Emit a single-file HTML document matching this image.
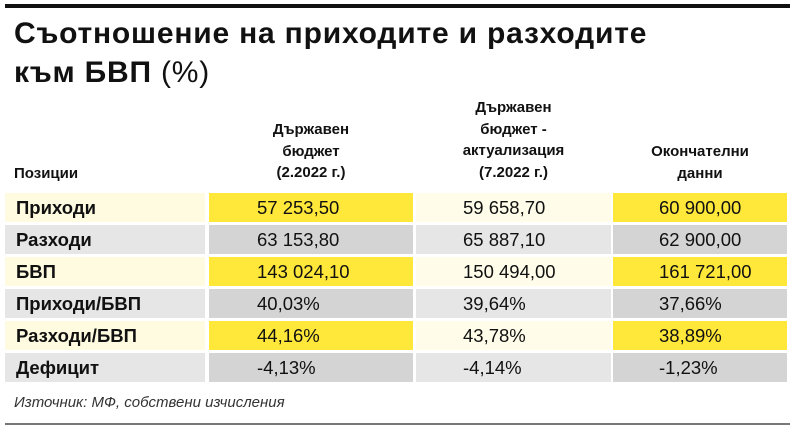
<!DOCTYPE html>
<html><head><meta charset="utf-8"><style>
body{margin:0;width:800px;height:430px;background:#fff;position:relative;font-family:"Liberation Sans","DejaVu Sans",sans-serif;overflow:hidden;color:#111}
.a{position:absolute}
.t{left:14px;font-weight:bold;font-size:30px;letter-spacing:0.8px;white-space:nowrap}
.h{font-weight:bold;font-size:15px;line-height:21.5px;text-align:center}
.c{position:absolute;height:29px;line-height:29px;font-size:18.5px}
.l{left:5px;width:200px;padding-left:11px;box-sizing:border-box;font-weight:bold;font-size:18.5px}
</style></head><body>
<div class="a" style="left:5px;top:4px;width:785px;height:4px;background:#111"></div>
<div class="a t" style="top:17px">Съотношение на приходите и разходите</div>
<div class="a t" style="top:56px">към БВП <span style="font-weight:normal">(%)</span></div>
<div class="a h" style="left:14px;top:163px;text-align:left">Позиции</div>
<div class="a h" style="left:209px;width:204px;top:119px">Държавен<br>бюджет<br>(2.2022 г.)</div>
<div class="a h" style="left:416px;width:195px;top:97px">Държавен<br>бюджет -<br>актуализация<br>(7.2022 г.)</div>
<div class="a h" style="left:613px;width:174px;top:141px">Окончателни<br>данни</div>
<div id="rows"></div>
<div class="a" style="left:14px;top:394px;font-style:italic;font-size:15px;color:#333">Източник: МФ, собствени изчисления</div>
<div class="a" style="left:5px;top:423px;width:785px;height:2px;background:#777"></div>
<script>
var d=[["Приходи","57 253,50","59 658,70","60 900,00"],["Разходи","63 153,80","65 887,10","62 900,00"],["БВП","143 024,10","150 494,00","161 721,00"],["Приходи/БВП","40,03%","39,64%","37,66%"],["Разходи/БВП","44,16%","43,78%","38,89%"],["Дефицит","-4,13%","-4,14%","-1,23%"]];
var tops=[193,225,257,289,321,353];var h="";
d.forEach(function(r,i){var y=i%2==0;var c1=y?"#fffbe0":"#e6e6e6",c2=y?"#ffe83a":"#d4d4d4",c3=y?"#fffdea":"#e6e6e6";
var t=tops[i];
h+='<div class="c l" style="top:'+t+'px;background:'+c1+'">'+r[0]+'</div>';
h+='<div class="c" style="left:209px;width:204px;top:'+t+'px;background:'+c2+';padding-left:48px;box-sizing:border-box">'+r[1]+'</div>';
h+='<div class="c" style="left:416px;width:195px;top:'+t+'px;background:'+c3+';padding-left:47px;box-sizing:border-box">'+r[2]+'</div>';
h+='<div class="c" style="left:613px;width:174px;top:'+t+'px;background:'+c2+';padding-left:46px;box-sizing:border-box">'+r[3]+'</div>';});
document.getElementById("rows").innerHTML=h;
</script>
</body></html>
